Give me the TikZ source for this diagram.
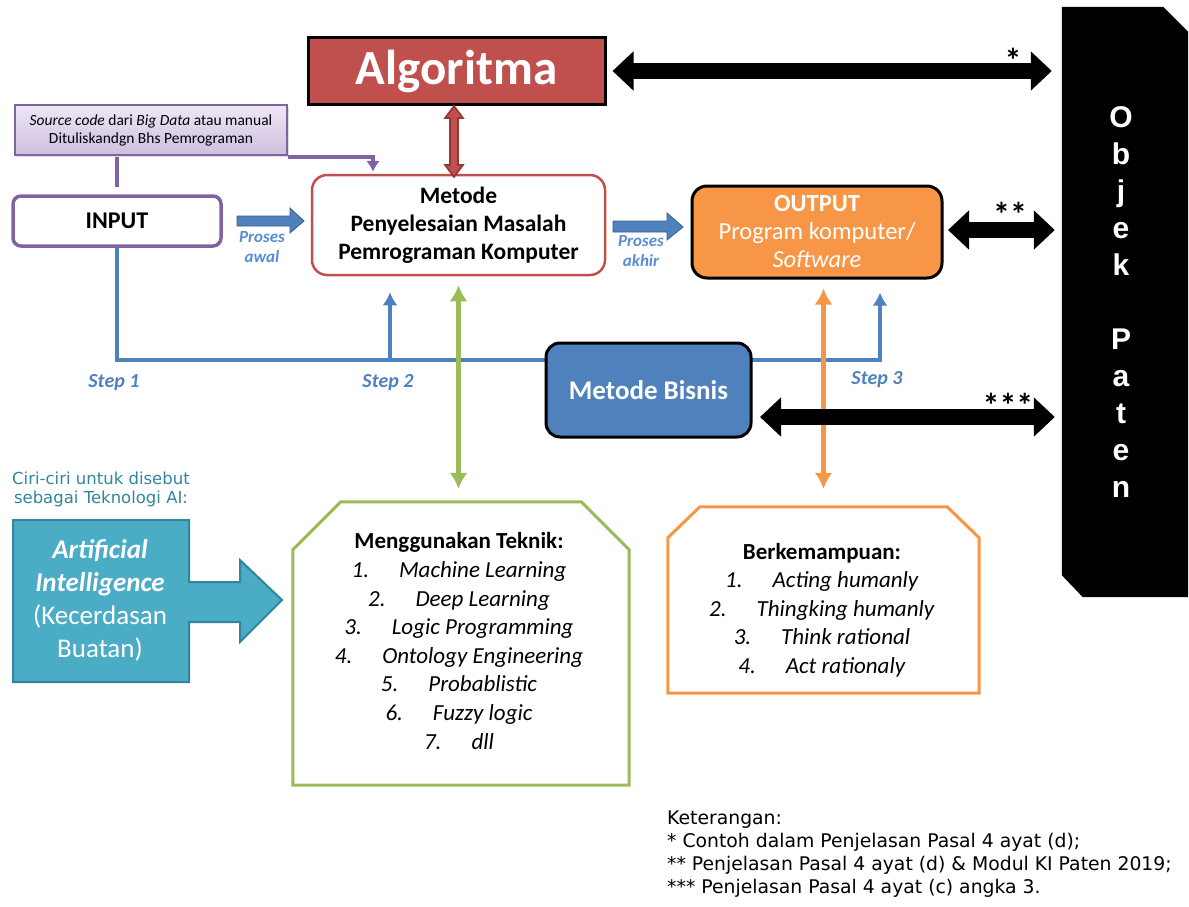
\documentclass[tikz,border=0pt]{standalone}
\usepackage{fontspec}
\setmainfont{Carlito}
\newfontfamily\captionfont{DejaVu Sans}
\newfontfamily\heavyfont{Liberation Sans}
\newfontfamily\notefont{DejaVu Sans}
\usetikzlibrary{arrows.meta,calc,shadows}

\definecolor{algred}{HTML}{C0504D}
\definecolor{darkred}{HTML}{943634}
\definecolor{lilac}{HTML}{8064A2}
\definecolor{lilactop}{HTML}{EEE8F5}
\definecolor{lilacbot}{HTML}{CDBFE0}
\definecolor{stepblue}{HTML}{4F81BD}
\definecolor{stepdark}{HTML}{385D8A}
\definecolor{labelblue}{HTML}{558ED5}
\definecolor{leafgreen}{HTML}{9BBB59}
\definecolor{outorange}{HTML}{F79646}
\definecolor{aiteal}{HTML}{4BACC6}
\definecolor{aidark}{HTML}{31859C}

\tikzset{
  blueline/.style={draw=stepblue, line width=3.5pt},
  bluetip/.style={blueline, -{Latex[length=13pt,width=15pt]}},
  twoway/.style={line width=4.5pt, {Latex[length=16pt,width=18pt]}-{Latex[length=16pt,width=18pt]}},
  blockway/.style={line width=16pt, {Triangle[length=21pt,width=38pt]}-{Triangle[length=21pt,width=38pt]}},
  steplabel/.style={text=stepblue, font=\fontsize{20}{22}\selectfont\bfseries\itshape},
  proslabel/.style={text=labelblue, align=center, font=\fontsize{17}{20}\selectfont\bfseries\itshape},
  starlabel/.style={font=\fontsize{34}{34}\selectfont\bfseries},
  blockarrow/.style={fill=stepblue, draw=stepdark, line width=0.8pt},
}

\begin{document}
\begin{tikzpicture}[x=1pt,y=-1pt]
\useasboundingbox (0,0) rectangle (1189,907);

% ---------- boxes ----------
\node[draw=black, line width=3pt, fill=algred, minimum width=297pt, minimum height=66pt,
      text=white, font=\fontsize{49}{54}\selectfont\bfseries] (algo) at (456.5,71) {Algoritma};

\node[draw=lilac, line width=1.5pt, top color=lilactop, bottom color=lilacbot,
      minimum width=272pt, minimum height=50pt, align=center, font=\fontsize{15.5}{18}\selectfont,
      drop shadow={opacity=0.25, shadow xshift=2pt, shadow yshift=-2pt}] (src) at (151,130)
      {\textit{Source code} dari \textit{Big Data} atau manual\\Dituliskandgn Bhs Pemrograman};

\node[draw=lilac, line width=3.5pt, fill=white, rounded corners=8pt,
      minimum width=208pt, minimum height=50pt, font=\fontsize{24}{26}\selectfont\bfseries] (input) at (117,221) {INPUT};

\node[draw=algred, line width=2.5pt, fill=white, rounded corners=15pt, align=center,
      minimum width=293pt, minimum height=100pt, font=\fontsize{23.5}{28}\selectfont\bfseries] (metode) at (458.5,225)
      {Metode\\Penyelesaian Masalah\\Pemrograman Komputer};

\node[draw=black, line width=3pt, fill=outorange, rounded corners=15pt, align=center, text=white,
      minimum width=250pt, minimum height=92pt, font=\fontsize{24.5}{28}\selectfont] (output) at (817,232)
      {\textbf{OUTPUT}\\Program komputer/\\\textit{Software}};

% ---------- patent object column ----------
\node[minimum width=126pt, minimum height=590pt, inner sep=0pt] (paten) at (1125,302) {};
\fill[black] (paten.north west) -- ($(paten.north east)+(-25,0)$) -- ($(paten.north east)+(0,25)$)
  -- (paten.south east) -- ($(paten.south west)+(21,0)$) -- ($(paten.south west)+(0,-22)$) -- cycle;
\node[text=white, align=center, font=\fontsize{30}{37}\selectfont\heavyfont\bfseries] (patentext) at (1121,302)
  {O\\b\\j\\e\\k\\\strut\\P\\a\\t\\e\\n};

% ---------- step lines ----------
\coordinate (st2) at (390,360);
\coordinate (st3) at (880,360);
\draw[bluetip, shorten >=13pt] (input.south) |- (st3) -- (st3 |- output.south);
\draw[bluetip, shorten >=16pt] (st2) -- (st2 |- metode.south);

\node[fill=stepblue, draw=black, line width=3pt, rounded corners=14pt, text=white,
      minimum width=205pt, minimum height=94pt, font=\fontsize{27}{30}\selectfont\bfseries] (bisnis) at (648.5,390) {Metode Bisnis};

\node[steplabel] (lab1) at (114,383) {Step 1};
\node[steplabel] (lab2) at (388,383) {Step 2};
\node[steplabel] (lab3) at (877,380) {Step 3};

% ---------- source code feed ----------
\coordinate (srcfoot) at (117,187);
\coordinate (srcbend) at (117,157);
\coordinate (srcdrop) at (373,157);
\draw[draw=lilac, line width=3.3pt] (srcfoot) -- (srcbend);
\draw[draw=lilac, line width=3.3pt, -{Latex[length=11pt,width=14pt]}, shorten >=2pt]
  (src.south east |- srcbend) -- (srcdrop) -- (srcdrop |- metode.north);

% ---------- algorithm link ----------
\coordinate (algtop) at (454,106);
\coordinate (algbot) at (454,177);
\filldraw[fill=algred, draw=darkred, line width=1.6pt]
  (algtop) -- ($(algtop)+(9,12)$) -- ($(algtop)+(4,12)$) -- ($(algbot)+(4,-12)$) -- ($(algbot)+(9,-12)$)
  -- (algbot) -- ($(algbot)+(-9,-12)$) -- ($(algbot)+(-4,-12)$) -- ($(algtop)+(-4,12)$) -- ($(algtop)+(-9,12)$) -- cycle;

% ---------- process arrows ----------
\filldraw[blockarrow] (237,216) -- (290,216) -- (290,208) -- (304,221) -- (290,233) -- (290,226) -- (237,226) -- cycle;
\node[proslabel] (pawal) at (262,247) {Proses\\awal};
\filldraw[blockarrow] (613,221) -- (667,221) -- (667,213) -- (683,227) -- (667,240) -- (667,232) -- (613,232) -- cycle;
\node[proslabel] (pakhir) at (641,251) {Proses\\akhir};

% ---------- lower boxes ----------
\node[minimum width=336pt, minimum height=283pt, inner sep=0pt] (teknik) at (461,643.5) {};
\draw[leafgreen, line width=3pt, fill=white] ($(teknik.north west)+(0,48)$) -- ($(teknik.north west)+(48,0)$)
  -- ($(teknik.north east)+(-48,0)$) -- ($(teknik.north east)+(0,48)$) -- (teknik.south east) -- (teknik.south west) -- cycle;
\node[align=center, font=\fontsize{23}{28.6}\selectfont] (teknikText) at (459,641)
  {\textbf{Menggunakan Teknik:}\\
   \textit{1.\hspace{30pt}Machine Learning}\\
   \textit{2.\hspace{30pt}Deep Learning}\\
   \textit{3.\hspace{30pt}Logic Programming}\\
   \textit{4.\hspace{30pt}Ontology Engineering}\\
   \textit{5.\hspace{30pt}Probablistic}\\
   \textit{6.\hspace{30pt}Fuzzy logic}\\
   \textit{7.\hspace{30pt}dll}};

\node[minimum width=311pt, minimum height=186pt, inner sep=0pt] (mampu) at (823.5,600) {};
\draw[outorange, line width=3pt, fill=white] ($(mampu.north west)+(0,31)$) -- ($(mampu.north west)+(32,0)$)
  -- ($(mampu.north east)+(-32,0)$) -- ($(mampu.north east)+(0,31)$) -- (mampu.south east) -- (mampu.south west) -- cycle;
\node[align=center, font=\fontsize{23}{28.5}\selectfont] (mampuText) at (822,610)
  {\textbf{Berkemampuan:}\\
   \textit{1.\hspace{30pt}Acting humanly}\\
   \textit{2.\hspace{30pt}Thingking humanly}\\
   \textit{3.\hspace{30pt}Think rational}\\
   \textit{4.\hspace{30pt}Act rationaly}};

% ---------- two-way links ----------
\draw[twoway, leafgreen, shorten <=9pt, shorten >=13pt] (metode.south) -- (metode.south |- teknik.north);
\draw[twoway, outorange, shorten <=9pt, shorten >=18pt] (mampu.north |- output.south) -- (mampu.north);

\draw[blockway, shorten <=6pt, shorten >=10pt] (algo.east) -- (algo.east -| paten.west);
\coordinate (outlink) at (942,230);
\draw[blockway, shorten <=6pt, shorten >=7pt] (outlink) -- (outlink -| paten.west);
\coordinate (bizlink) at (751,417);
\draw[blockway, shorten <=9pt, shorten >=7pt] (bizlink) -- (bizlink -| paten.west);
\node[starlabel] (star1) at (1013,60) {*};
\node[starlabel] (star2) at (1010,214) {**};
\node[starlabel] (star3) at (1008,405) {***};

% ---------- AI block ----------
\node[text=aidark, align=center, font=\fontsize{16.5}{19}\selectfont\captionfont] (ciri) at (101,489)
  {Ciri-ciri untuk disebut\\sebagai Teknologi AI:};
\coordinate (aiTL) at (13,520);
\filldraw[fill=aiteal, draw=aidark, line width=2pt] (aiTL) -- (189,520) -- (189,582) -- (240,582) -- (240,560)
  -- (282,600) -- (240,642) -- (240,622) -- (189,622) -- (189,682) -- (13,682) -- cycle;
\node[text=white, align=center, font=\fontsize{27}{33}\selectfont] (aitext) at (100,600)
  {\textbf{\textit{Artificial}}\\\textbf{\textit{Intelligence}}\\(Kecerdasan\\Buatan)};

% ---------- notes ----------
\node[anchor=north west, align=left, inner sep=0pt, font=\fontsize{18.8}{22.7}\selectfont\notefont] (notes) at (667,811)
  {Keterangan:\\
   * Contoh dalam Penjelasan Pasal 4 ayat (d);\\
   ** Penjelasan Pasal 4 ayat (d) \& Modul KI Paten 2019;\\
   *** Penjelasan Pasal 4 ayat (c) angka 3.};
\end{tikzpicture}
\end{document}
